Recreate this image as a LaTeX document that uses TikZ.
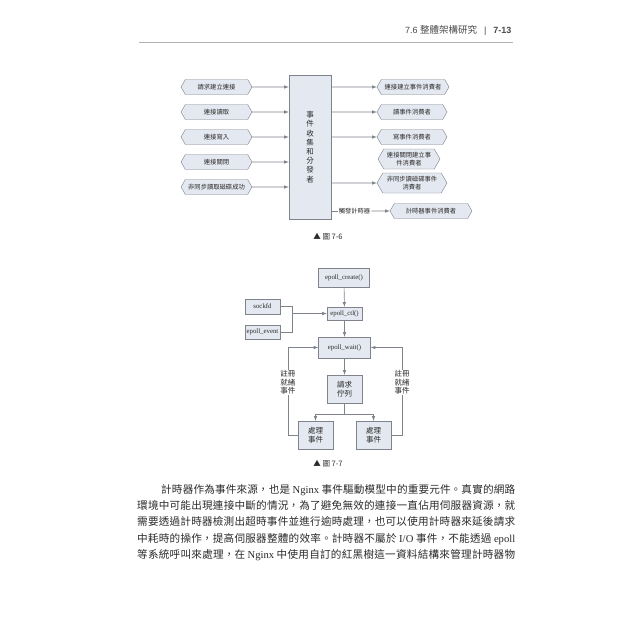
\documentclass[tikz,border=0pt]{standalone}
\usepackage{fontspec}
\setmainfont{Liberation Serif}
\newfontfamily\cjk{Noto Sans CJK TC}
\newfontfamily\arial{Liberation Sans}
\usepackage{tikz}
\usetikzlibrary{shapes.symbols}
\XeTeXlinebreaklocale "zh"
\XeTeXlinebreakskip=0pt plus 2pt
\definecolor{boxfill}{HTML}{E4E8F0}
\definecolor{edge}{HTML}{7E838C}
\definecolor{ink}{HTML}{2A2A2A}
\tikzset{
  hexa/.style={shape=signal, signal to=east and west, signal pointer angle=120,
    draw=edge, fill=boxfill, inner sep=1pt, minimum height=15pt, align=center,
    text=ink, font=\cjk\fontsize{6.3}{7.8}\selectfont},
  cbox/.style={draw=edge, fill=boxfill, inner sep=1pt, align=center, text=ink},
  link/.style={draw=edge, line width=0.6pt},
  lbl/.style={fill=white, inner sep=1pt, align=center, text=ink},
  figcap/.style={text=ink, font=\cjk\fontsize{7.5}{9}\selectfont}
}

\begin{document}
\begin{tikzpicture}[x=1pt, y=-1pt, >=latex]
    \useasboundingbox[fill=white] (0,0) rectangle (640,640);

    % Header
    \node[anchor=east, text=ink!85, font=\arial\fontsize{9}{10}\selectfont] (head) at (515,30)
        {7.6 {\cjk\fontsize{9.5}{10}\selectfont 整體架構研究}\hspace{7pt}|\hspace{7pt}\textbf{7-13}};
    \draw[gray!60, line width=0.6pt] (139,42) -- (513,42);

    % Figure 7-6
    \node[cbox, minimum width=42pt, minimum height=144pt,
          font=\cjk\fontsize{7.5}{9.2}\selectfont] (hub) at (310,147) {事\\件\\收\\集\\和\\分\\發\\者};

    \node[hexa, minimum width=71pt] (in1) at (216.5,87) {請求建立連接};
    \node[hexa, minimum width=71pt] (in2) at (216.5,112) {連接讀取};
    \node[hexa, minimum width=71pt] (in3) at (216.5,137) {連接寫入};
    \node[hexa, minimum width=71pt] (in4) at (216.5,162) {連接關閉};
    \node[hexa, minimum width=71pt] (in5) at (216.5,187) {非同步讀取磁碟成功};
    \draw[link, ->] (in1) -- (in1 -| hub.west);
    \draw[link, ->] (in2) -- (in2 -| hub.west);
    \draw[link, ->] (in3) -- (in3 -| hub.west);
    \draw[link, ->] (in4) -- (in4 -| hub.west);
    \draw[link, ->] (in5) -- (in5 -| hub.west);

    \node[hexa, minimum width=72pt] (out1) at (413,87) {連接建立事件消費者};
    \node[hexa, minimum width=70pt] (out2) at (412,112) {讀事件消費者};
    \node[hexa, minimum width=70pt] (out3) at (412,137) {寫事件消費者};
    \node[hexa, minimum width=62pt, minimum height=20pt] (out4) at (409,159) {連接關閉建立事\\件消費者};
    \node[hexa, minimum width=70pt, minimum height=20pt] (out5) at (412,183) {非同步讀磁碟事件\\消費者};
    \node[hexa, minimum width=82pt] (timer) at (431,211) {計時器事件消費者};
    \draw[link, ->] (out1 -| hub.east) -- (out1);
    \draw[link, ->] (out2 -| hub.east) -- (out2);
    \draw[link, ->] (out3 -| hub.east) -- (out3);
    \draw[link, ->] (out5 -| hub.east) -- (out5);
    \node[lbl, font=\cjk\fontsize{6.3}{7.8}\selectfont] (trig) at (354.5,211) {觸發計時器};
    \draw[link] (trig -| hub.east) -- (trig.west);
    \draw[link, ->] (trig.east) -- (timer);

    \node[figcap] (cap6) at (328,237) {▲ 圖 7-6};

    % Figure 7-7
    \node[cbox, minimum width=51pt, minimum height=19pt, font=\fontsize{6.8}{8}\selectfont] (create) at (344,277.5) {epoll\_create()};
    \node[cbox, minimum width=35pt, minimum height=13pt, font=\fontsize{6.8}{8}\selectfont] (ctl) at (344.5,313.5) {epoll\_ctl()};
    \node[cbox, minimum width=35pt, minimum height=15pt, font=\fontsize{6.8}{8}\selectfont] (sock) at (262.5,306.5) {sockfd};
    \node[cbox, minimum width=35pt, minimum height=14pt, font=\fontsize{6.8}{8}\selectfont] (event) at (262.5,332) {epoll\_event};
    \node[cbox, minimum width=52pt, minimum height=21pt, font=\fontsize{6.8}{8}\selectfont] (wait) at (344.5,347.5) {epoll\_wait()};
    \node[cbox, minimum width=35pt, minimum height=28pt, font=\cjk\fontsize{7.5}{9}\selectfont] (queue) at (344.5,389) {請求\\佇列};
    \node[cbox, minimum width=35pt, minimum height=28pt, font=\cjk\fontsize{7.5}{9}\selectfont] (proc1) at (315.5,435) {處理\\事件};
    \node[cbox, minimum width=35pt, minimum height=28pt, font=\cjk\fontsize{7.5}{9}\selectfont] (proc2) at (373.5,435) {處理\\事件};

    \coordinate (join) at (292,313.5);
    \coordinate (split) at (344.5,414);
    \draw[link, ->] (create) -- (ctl);
    \draw[link] (sock.east) -| (join);
    \draw[link] (event.east) -| (join);
    \draw[link, ->] (join) -- (ctl.west);
    \draw[link, ->] (ctl) -- (wait);
    \draw[link, ->] (wait) -- (queue);
    \draw[link] (queue) -- (split);
    \draw[link, ->] (split) -| (proc1);
    \draw[link, ->] (split) -| (proc2);
    \draw[link, ->] (proc1.west) -- ++(-10,0) |- node[lbl, pos=0.3, font=\cjk\fontsize{7.5}{8.4}\selectfont] (reg1) {註冊\\就緒\\事件} (wait.west);
    \draw[link, ->] (proc2.east) -- ++(11,0) |- node[lbl, pos=0.3, font=\cjk\fontsize{7.5}{8.4}\selectfont] (reg2) {註冊\\就緒\\事件} (wait.east);

    \node[figcap] (cap7) at (328,464) {▲ 圖 7-7};

    % Body text
    \node[anchor=north west, inner sep=0pt, text=ink] (body) at (137,484) {\parbox{378pt}{%
        \cjk\fontsize{10.6}{16.3}\selectfont\parindent=0pt\parfillskip=0pt
        \hspace*{24pt}計時器作為事件來源，也是 {\rmfamily Nginx} 事件驅動模型中的重要元件。真實的網路\linebreak
        環境中可能出現連接中斷的情況，為了避免無效的連接一直佔用伺服器資源，就\linebreak
        需要透過計時器檢測出超時事件並進行逾時處理，也可以使用計時器來延後請求\linebreak
        中耗時的操作，提高伺服器整體的效率。計時器不屬於 {\rmfamily I/O} 事件，不能透過 {\rmfamily epoll}\linebreak
        等系統呼叫來處理，在 {\rmfamily Nginx} 中使用自訂的紅黑樹這一資料結構來管理計時器物}};
\end{tikzpicture}
\end{document}
